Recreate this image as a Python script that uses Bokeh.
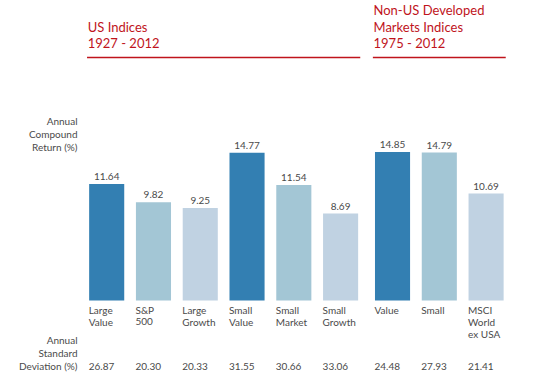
from bokeh.plotting import figure
from bokeh.models import ColumnDataSource, FactorRange, Range1d, LabelSet, Label
from bokeh.core.properties import value
from bokeh.embed import file_html
from bokeh.resources import INLINE

# ---- data ----
groups = ["US", "US", "US", "US", "US", "US", "Non-US", "Non-US", "Non-US"]
names = ["Large Value", "S&P 500", "Large Growth", "Small Value", "Small Market",
         "Small Growth", "Value", "Small", "MSCI World ex USA"]
label_line1 = ["Large", "S&P", "Large", "Small", "Small", "Small", "Value", "Small", "MSCI"]
label_line2 = ["Value", "500", "Growth", "Value", "Market", "Growth", "", "", "World"]
label_line3 = ["", "", "", "", "", "", "", "", "ex USA"]
returns = [11.64, 9.82, 9.25, 14.77, 11.54, 8.69, 14.85, 14.79, 10.69]
std_devs = [26.87, 20.30, 20.33, 31.55, 30.66, 33.06, 24.48, 27.93, 21.41]
kinds = ["value", "market", "growth", "value", "market", "growth", "value", "market", "growth"]

group_ids = ["US", "Non-US"]
group_titles = [["US Indices", "1927 - 2012"],
                ["Non-US Developed", "Markets Indices", "1975 - 2012"]]
return_axis_label = ["Annual", "Compound", "Return (%)"]
std_axis_label = ["Annual", "Standard", "Deviation (%)"]

palette = {"value": "#337FB2", "market": "#A3C6D5", "growth": "#C0D2E2"}
RED = "#C0141C"
TXT = "#4A4A4A"
FONT = "Lato"

factors = list(zip(groups, names))
src = ColumnDataSource(dict(
    x=factors,
    ret=returns,
    ret_txt=[f"{v:.2f}" for v in returns],
    sd_txt=[f"{v:.2f}" for v in std_devs],
    l1=label_line1, l2=label_line2, l3=label_line3,
    color=[palette[k] for k in kinds],
))

# a blank leading slot leaves room for the row titles on the left
x_range = FactorRange(("US", " "), *factors, group_padding=0.11, factor_padding=0.0,
                      range_padding=0.77, range_padding_units="absolute")

p = figure(width=545, height=384, x_range=x_range, y_range=Range1d(-8.4, 30.0),
           output_backend="svg", toolbar_location=None,
           x_axis_location=None, y_axis_location=None, min_border=0)
p.outline_line_color = None
p.xgrid.visible = False
p.ygrid.visible = False

p.vbar(x="x", top="ret", bottom=0, width=0.75, fill_color="color",
       line_color=None, source=src)

txt = dict(text_font=value(FONT), text_font_size="10px", text_color=TXT)

# value labels above bars
p.add_layout(LabelSet(x="x", y="ret", text="ret_txt", source=src, y_offset=4,
                      text_align="center", text_baseline="bottom", **txt))
# category labels below bars (one LabelSet per line)
for k, col in enumerate(["l1", "l2", "l3"]):
    p.add_layout(LabelSet(x="x", y=0, text=col, source=src, x_offset=-18,
                          y_offset=-9 - 12 * k, text_align="left",
                          text_baseline="middle", **txt))
# std dev row
p.add_layout(LabelSet(x="x", y=0, text="sd_txt", source=src, x_offset=-18, y_offset=-66,
                      text_align="left", text_baseline="middle", **txt))

# group titles and underlines
first = {g: (g, n) for g, n in reversed(factors)}
last = {g: (g, n) for g, n in factors}
tx, ty, tt = [], [], []
for g, lines in zip(group_ids, group_titles):
    n = len(lines)
    for i, line in enumerate(lines):
        tx.append(first[g])
        ty.append(25.73 + 1.65 * (n - 1 - i))
        tt.append(line)
p.text(x=tx, y=ty, text=tt, x_offset=-19, text_align="left", text_baseline="middle",
       text_font=value(FONT), text_font_size="13px", text_color=RED)
p.segment(x0=[first[g] + (-0.42,) for g in group_ids], x1=[last[g] + (0.42,) for g in group_ids],
          y0=[24.3, 24.3], y1=[24.3, 24.3], line_color=RED, line_width=1.3)

# left side labels
for i, t in enumerate(return_axis_label):
    p.add_layout(Label(x=77, y=18.0 - 1.3 * i, x_units="canvas", text=t,
                       text_align="right", text_baseline="middle",
                       text_font=FONT, text_font_size="10px", text_color=TXT))
for i, t in enumerate(std_axis_label):
    p.add_layout(Label(x=77, y=-3.9 - 1.3 * i, x_units="canvas", text=t,
                       text_align="right", text_baseline="middle",
                       text_font=FONT, text_font_size="10px", text_color=TXT))

open("out.html", "w").write(file_html(p, INLINE))
